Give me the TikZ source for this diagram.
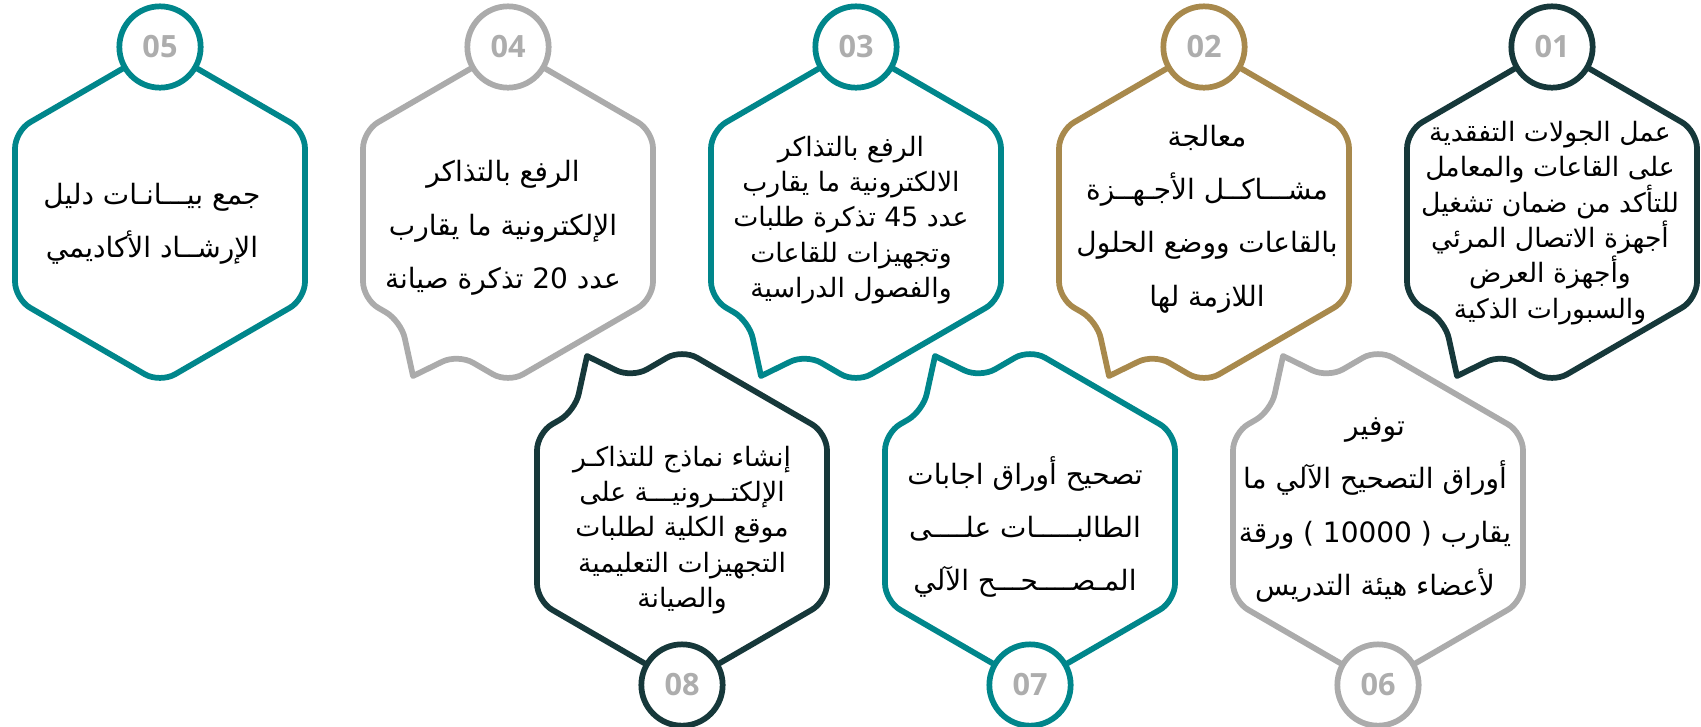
\documentclass[tikz,border=0pt]{standalone}
\usepackage{fontspec}
\usepackage{xcolor}
\usepackage{tikz}
\TeXXeTstate=1
\newfontfamily\arabicfont[Script=Arabic]{DejaVu Sans}
\newfontfamily\numfont{Open Sans}
\definecolor{tealc}{RGB}{0,134,139}
\definecolor{darkc}{RGB}{22,56,58}
\definecolor{goldc}{RGB}{168,137,76}
\definecolor{greyc}{RGB}{171,171,171}
\definecolor{numc}{RGB}{173,173,173}
\newcommand{\arline}[1]{\beginR #1\endR}
\tikzset{
  hexline/.style={line width=4.3pt, rounded corners=13pt, line join=round},
  numcircle/.style={circle, draw, line width=4.3pt, fill=white, minimum size=61pt, inner sep=0pt,
    text=numc, font=\numfont\bfseries\fontsize{23}{23}\selectfont},
  bodytext/.style={align=center, inner sep=0pt, font=\arabicfont\fontsize{21}{40}\selectfont},
  densetext/.style={align=center, inner sep=0pt, font=\arabicfont\fontsize{20}{26.5}\selectfont},
}

\begin{document}
\begin{tikzpicture}[x=0.75pt,y=0.75pt,yscale=-1,xscale=1]
        \useasboundingbox (0,0) rectangle (1701,726);

        %Shape: Hexagon 05 (no tail)
        \draw [hexline,draw=tealc] (160,47) -- (305,131) -- (305,299) -- (160,383) -- (15,299) -- (15,131) -- cycle ;
        %Shape: Hexagons top row, tail pointing down
        \foreach \cx/\col in {508/greyc, 856/tealc, 1204/goldc, 1552/darkc} {
          \begin{scope}[shift={(\cx,215)}]
            \draw [hexline,draw=\col] (0,-168) -- (145,-84) -- (145,84) -- (0,168) -- (-50,139) [sharp corners] -- (-95,161) [rounded corners=13pt] -- (-107,106) -- (-145,84) -- (-145,-84) -- cycle ;
          \end{scope}
        }
        %Shape: Hexagons bottom row, tail pointing up
        \foreach \cx/\col in {682/darkc, 1030/tealc, 1378/greyc} {
          \begin{scope}[shift={(\cx,517)}]
            \draw [hexline,draw=\col] (0,168) -- (-145,84) -- (-145,-84) -- (-107,-106) [sharp corners] -- (-95,-161) [rounded corners=13pt] -- (-50,-139) -- (0,-168) -- (145,-84) -- (145,84) -- cycle ;
          \end{scope}
        }

        %Shape: Circles with numbers
        \foreach \cx/\col/\num in {160/tealc/05, 508/greyc/04, 856/tealc/03, 1204/goldc/02, 1552/darkc/01} {
          \node [numcircle,draw=\col] (n\num) at (\cx,47) {\num};
        }
        \foreach \cx/\col/\num in {682/darkc/08, 1030/tealc/07, 1378/greyc/06} {
          \node [numcircle,draw=\col] (n\num) at (\cx,685) {\num};
        }

        % Text Node
        \node [bodytext] (t05) at (152,224) {\arline{جمع بيـــانـات دليل}\\\arline{الإرشــاد الأكاديمي}};
        % Text Node
        \node [bodytext] (t04) at (503,228) {\arline{الرفع بالتذاكر}\\\arline{الإلكترونية ما يقارب}\\\arline{عدد 20 تذكرة صيانة}};
        % Text Node
        \node [densetext] (t03) at (851,220) {\arline{الرفع بالتذاكر}\\\arline{الالكترونية ما يقارب}\\\arline{عدد 45 تذكرة طلبات}\\\arline{وتجهيزات للقاعات}\\\arline{والفصول الدراسية}};
        % Text Node
        \node [bodytext] (t02) at (1207,219) {\arline{معالجة}\\\arline{مشـــاكــل الأجـهــزة}\\\arline{بالقاعات ووضع الحلول}\\\arline{اللازمة لها}};
        % Text Node
        \node [densetext] (t01) at (1550,223) {\arline{عمل الجولات التفقدية}\\\arline{على القاعات والمعامل}\\\arline{للتأكد من ضمان تشغيل}\\\arline{أجهزة الاتصال المرئي}\\\arline{وأجهزة العرض}\\\arline{والسبورات الذكية}};
        % Text Node
        \node [densetext] (t08) at (682,530) {\arline{إنشاء نماذج للتذاكـر}\\\arline{الإلكتــرونيـــة على}\\\arline{موقع الكلية لطلبات}\\\arline{التجهيزات التعليمية}\\\arline{والصيانة}};
        % Text Node
        \node [bodytext] (t07) at (1025,527) {\arline{تصحيح أوراق اجابات}\\\arline{الطالبـــــات علــــى}\\\arline{المـصــــحـــح الآلي}};
        % Text Node
        \node [bodytext] (t06) at (1375,510) {\arline{توفير}\\\arline{أوراق التصحيح الآلي ما}\\\arline{يقارب ( 10000 ) ورقة}\\\arline{لأعضاء هيئة التدريس}};
\end{tikzpicture}
\end{document}
